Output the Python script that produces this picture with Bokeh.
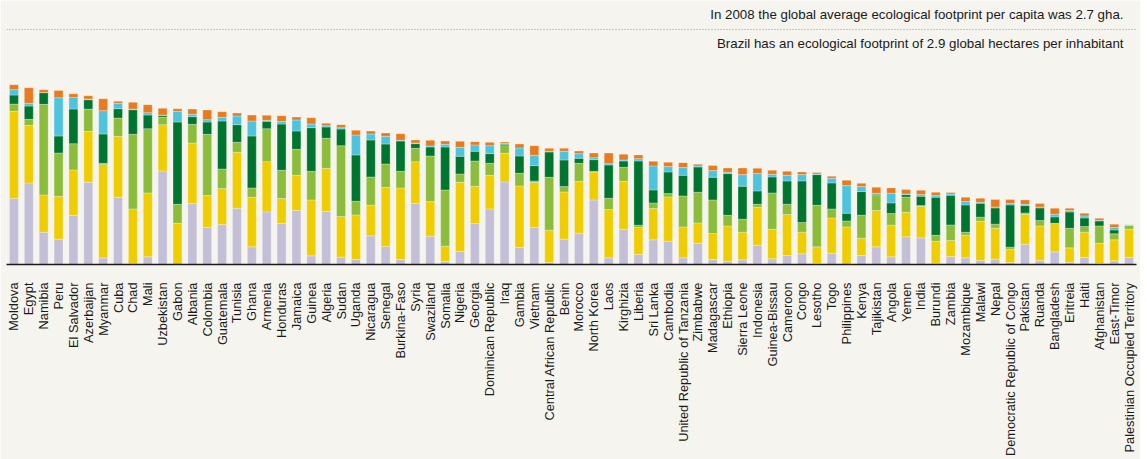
import math
from bokeh.plotting import figure
from bokeh.models import ColumnDataSource, FactorRange, Range1d, Span, Label
from bokeh.embed import file_html
from bokeh.resources import INLINE

countries = ["Moldova", "Egypt", "Namibia", "Peru", "El Salvador", "Azerbaijan", "Myanmar", "Cuba",
             "Chad", "Mali", "Uzbekistan", "Gabon", "Albania", "Colombia", "Guatemala", "Tunisia",
             "Ghana", "Armenia", "Honduras", "Jamaica", "Guinea", "Algeria", "Sudan", "Uganda",
             "Nicaragua", "Senegal", "Burkina-Faso", "Syria", "Swaziland", "Somalia", "Nigeria",
             "Georgia", "Dominican Republic", "Iraq", "Gambia", "Vietnam", "Central African Republic",
             "Benin", "Morocco", "North Korea", "Laos", "Kirghizia", "Liberia", "Sri Lanka", "Cambodia",
             "United Republic of Tanzania", "Zimbabwe", "Madagascar", "Ethiopia", "Sierra Leone",
             "Indonesia", "Guinea-Bissau", "Cameroon", "Congo", "Lesotho", "Togo", "Philippines",
             "Kenya", "Tajikistan", "Angola", "Yemen", "India", "Burundi", "Zambia", "Mozambique",
             "Malawi", "Nepal", "Democratic Republic of Congo", "Pakistan", "Ruanda", "Bangladesh",
             "Eritreia", "Haiti", "Afghanistan", "East-Timor", "Palestinian Occupied Territory"]

# footprint components (global hectares per person), bottom to top
lavender = [0.792, 0.98, 0.388, 0.304, 0.588, 0.988, 0.08, 0.808, 0.008, 0.092, 1.124, 0.0, 0.732, 0.444,
            0.48, 0.676, 0.212, 0.632, 0.492, 0.648, 0.104, 0.636, 0.088, 0.06, 0.344, 0.216, 0.06, 0.732,
            0.34, 0.036, 0.156, 0.492, 0.668, 0.992, 0.204, 0.444, 0.024, 0.304, 0.376, 0.776, 0.08, 0.424,
            0.12, 0.296, 0.28, 0.08, 0.256, 0.06, 0.04, 0.056, 0.232, 0.068, 0.108, 0.128, 0.012, 0.136,
            0.004, 0.108, 0.212, 0.092, 0.332, 0.32, 0.016, 0.096, 0.08, 0.048, 0.064, 0.024, 0.244, 0.048,
            0.152, 0.028, 0.084, 0.012, 0.044, 0.084]
yellow = [1.048, 0.692, 0.448, 0.516, 0.548, 0.612, 1.12, 0.732, 0.66, 0.768, 0.556, 0.496, 0.728, 0.384,
          0.432, 0.672, 0.596, 0.604, 0.3, 0.424, 0.672, 0.52, 0.488, 0.536, 0.368, 0.712, 0.86, 0.504,
          0.416, 0.184, 0.832, 0.448, 0.404, 0.344, 0.74, 0.54, 0.388, 0.568, 0.624, 0.336, 0.58, 0.576,
          0.324, 0.376, 0.532, 0.372, 0.244, 0.312, 0.424, 0.332, 0.456, 0.356, 0.492, 0.26, 0.2, 0.424,
          0.448, 0.208, 0.436, 0.38, 0.296, 0.376, 0.264, 0.192, 0.272, 0.472, 0.372, 0.16, 0.36, 0.416,
          0.34, 0.172, 0.304, 0.244, 0.252, 0.34]
light_green = [0.088, 0.072, 1.088, 0.52, 0.316, 0.268, 0.016, 0.22, 0.896, 0.772, 0.092, 0.228, 0.224,
               0.736, 0.236, 0.12, 0.112, 0.396, 0.34, 0.312, 0.344, 0.36, 0.852, 0.164, 0.34, 0.28, 0.2,
               0.16, 0.548, 0.676, 0.1, 0.304, 0.144, 0.092, 0.152, 0.02, 0.636, 0.064, 0.216, 0.008, 0.136,
               0.168, 0.028, 0.068, 0.04, 0.372, 0.368, 0.404, 0.128, 0.156, 0.036, 0.436, 0.124, 0.116,
               0.5, 0.108, 0.072, 0.276, 0.18, 0.14, 0.184, 0.012, 0.072, 0.188, 0.036, 0.048, 0.048, 0.024,
               0.016, 0.064, 0.004, 0.236, 0.068, 0.208, 0.072, 0.044]
dark_green = [0.108, 0.16, 0.14, 0.204, 0.416, 0.112, 0.352, 0.112, 0.296, 0.164, 0.02, 0.988, 0.092,
              0.148, 0.576, 0.212, 0.624, 0.088, 0.556, 0.22, 0.524, 0.136, 0.2, 0.556, 0.444, 0.24, 0.364,
              0.056, 0.108, 0.516, 0.212, 0.116, 0.116, 0.016, 0.208, 0.184, 0.304, 0.32, 0.06, 0.14, 0.4,
              0.076, 0.772, 0.156, 0.26, 0.248, 0.304, 0.272, 0.5, 0.396, 0.16, 0.192, 0.28, 0.5, 0.368,
              0.312, 0.092, 0.284, 0.016, 0.128, 0.028, 0.112, 0.456, 0.356, 0.328, 0.168, 0.196, 0.508,
              0.088, 0.152, 0.076, 0.196, 0.104, 0.06, 0.048, 0.0]
blue = [0.064, 0.032, 0.004, 0.46, 0.14, 0.008, 0.28, 0.064, 0.008, 0.028, 0.004, 0.128, 0.028, 0.028,
        0.044, 0.104, 0.18, 0.012, 0.032, 0.132, 0.044, 0.016, 0.016, 0.24, 0.072, 0.092, 0.008, 0.008,
        0.012, 0.032, 0.108, 0.076, 0.096, 0.012, 0.096, 0.124, 0.008, 0.104, 0.056, 0.024, 0.016, 0.012,
        0.028, 0.288, 0.064, 0.092, 0.012, 0.08, 0.016, 0.14, 0.208, 0.032, 0.068, 0.076, 0.008, 0.056,
        0.332, 0.06, 0.012, 0.116, 0.008, 0.02, 0.02, 0.016, 0.04, 0.012, 0.012, 0.016, 0.016, 0.012,
        0.032, 0.016, 0.024, 0.008, 0.028, 0.012]
orange = [0.06, 0.188, 0.032, 0.088, 0.044, 0.04, 0.144, 0.024, 0.08, 0.096, 0.08, 0.032, 0.064, 0.116,
          0.068, 0.036, 0.072, 0.06, 0.068, 0.036, 0.076, 0.028, 0.036, 0.056, 0.036, 0.04, 0.08, 0.036,
          0.068, 0.04, 0.072, 0.04, 0.04, 0.016, 0.048, 0.116, 0.036, 0.036, 0.032, 0.056, 0.128, 0.068,
          0.044, 0.056, 0.052, 0.06, 0.02, 0.06, 0.052, 0.08, 0.064, 0.048, 0.048, 0.032, 0.016, 0.024,
          0.064, 0.04, 0.072, 0.064, 0.052, 0.052, 0.04, 0.016, 0.052, 0.048, 0.088, 0.048, 0.052, 0.04,
          0.072, 0.028, 0.032, 0.024, 0.04, 0.0]

header_1 = "In 2008 the global average ecological footprint per capita was 2.7 gha."
header_2 = "Brazil has an ecological footprint of 2.9 global hectares per inhabitant"

stackers = ["lavender", "yellow", "light_green", "dark_green", "blue", "orange"]
colors = ["#c3bfd6", "#f0cd00", "#8bbd3b", "#00752f", "#4ec3dd", "#e87b1f"]

source = ColumnDataSource(dict(country=countries, lavender=lavender, yellow=yellow,
                               light_green=light_green, dark_green=dark_green,
                               blue=blue, orange=orange))

bg = "#f5f4ee"
p = figure(frame_width=1130, frame_height=264, output_backend="svg", toolbar_location=None,
           x_range=FactorRange(factors=countries, range_padding=0),
           y_range=Range1d(0, 3.172),
           min_border_left=6, min_border_right=4, min_border_top=0, min_border_bottom=0,
           background_fill_color=bg, border_fill_color=bg, outline_line_color=None)

p.vbar_stack(stackers, x="country", width=0.6, color=colors, source=source,
             line_color="white", line_alpha=0.35, line_width=0.8)

p.xgrid.visible = False
p.ygrid.visible = False
p.yaxis.visible = False
ax = p.xaxis[0]
ax.major_label_orientation = math.pi / 2
ax.axis_line_color = "#1a1a1a"
ax.axis_line_width = 1.5
ax.major_tick_line_color = None
ax.major_tick_out = 0
ax.major_tick_in = 0
ax.minor_tick_line_color = None
ax.major_label_standoff = 18
ax.major_label_text_font = "Liberation Sans"
ax.major_label_text_font_size = "12.8px"
ax.major_label_text_color = "#1a1a1a"

p.add_layout(Span(location=2.824, dimension="width", line_color="#9a9a9a",
                  line_dash="1 2", line_width=1))
for txt, yy in [(header_1, 3.004), (header_2, 2.656)]:
    p.add_layout(Label(x=1117, y=yy, x_units="screen", y_units="data", text=txt,
                       text_align="right", text_baseline="middle",
                       text_font="Liberation Sans", text_font_size="13.3px",
                       text_color="#1a1a1a"))

open("out.html", "w").write(file_html(p, INLINE))
